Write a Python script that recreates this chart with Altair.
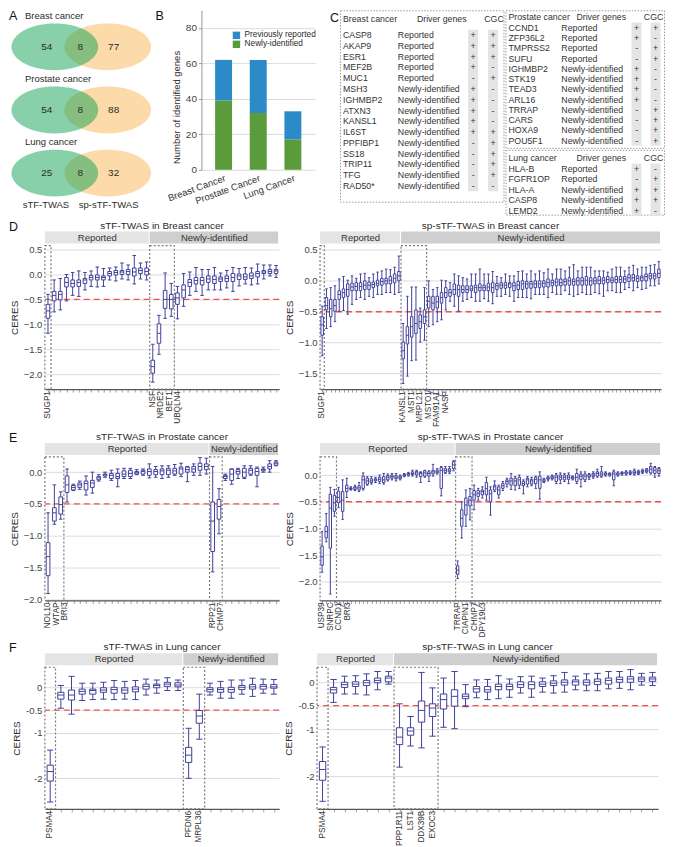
import altair as alt
import pandas as pd

FONT = "Liberation Sans"
NAVY = "#41419b"
RED = "#ef5350"
GRID = "#dcdcdc"
INK = "#2b2b2b"

# ---------------- Panel A : Venn counts ----------------
VENN_CANCERS = ["Breast cancer", "Prostate cancer", "Lung cancer"]
VENN_STF_ONLY = [54, 54, 25]
VENN_SHARED = [8, 8, 8]
VENN_SP_ONLY = [77, 88, 32]
VENN_SETS = ["sTF-TWAS", "sp-sTF-TWAS"]

# ---------------- Panel B : identified genes ----------------
B_CANCERS = ["Breast Cancer", "Prostate Cancer", "Lung Cancer"]
B_REPORTED = [23, 30, 16]
B_NEW = [39, 32, 17]
B_SERIES = ["Previously reported", "Newly-identified"]

# ---------------- Panel C : tables ----------------
BREAST_GENES = ["CASP8", "AKAP9", "ESR1", "MEF2B", "MUC1", "MSH3", "IGHMBP2", "ATXN3",
                "KANSL1", "IL6ST", "PPFIBP1", "SS18", "TRIP11", "TFG", "RAD50*"]
BREAST_STATUS = ["Reported"] * 5 + ["Newly-identified"] * 10
BREAST_DRIVER = ["+", "+", "+", "+", "-", "+", "+", "+", "+", "+", "-", "-", "-", "-", "-"]
BREAST_CGC = ["+", "+", "+", "-", "+", "-", "-", "-", "-", "+", "+", "+", "+", "+", "-"]

PROSTATE_GENES = ["CCND1", "ZFP36L2", "TMPRSS2", "SUFU", "IGHMBP2", "STK19", "TEAD3",
                  "ARL16", "TRRAP", "CARS", "HOXA9", "POU5F1"]
PROSTATE_STATUS = ["Reported"] * 4 + ["Newly-identified"] * 8
PROSTATE_DRIVER = ["+", "+", "-", "-", "+", "+", "+", "+", "-", "-", "-", "-"]
PROSTATE_CGC = ["+", "-", "+", "+", "-", "-", "-", "-", "+", "+", "+", "+"]

LUNG_GENES = ["HLA-B", "FGFR1OP", "HLA-A", "CASP8", "LEMD2"]
LUNG_STATUS = ["Reported", "Reported", "Newly-identified", "Newly-identified", "Newly-identified"]
LUNG_DRIVER = ["+", "-", "+", "+", "+"]
LUNG_CGC = ["-", "+", "+", "+", "-"]

# ---------------- Panels D-F : CERES box statistics (lo, q1, median, q3, hi) ----------------
D_L_REP = [(-1.18, -0.88, -0.73, -0.60, -0.40), (-0.75, -0.53, -0.42, -0.34, -0.11),
           (-0.71, -0.51, -0.40, -0.34, -0.08), (-0.53, -0.25, -0.16, -0.06, 0.00),
           (-0.42, -0.25, -0.18, -0.11, 0.04), (-0.44, -0.24, -0.16, -0.11, 0.07),
           (-0.31, -0.18, -0.11, -0.08, 0.04), (-0.24, -0.11, -0.06, -0.02, 0.07),
           (-0.25, -0.11, -0.06, -0.01, 0.15), (-0.24, -0.11, -0.06, -0.03, 0.12),
           (-0.11, -0.03, 0.02, 0.06, 0.13), (-0.13, -0.01, 0.04, 0.08, 0.15),
           (-0.09, 0.00, 0.05, 0.08, 0.23), (-0.11, 0.00, 0.06, 0.10, 0.19),
           (-0.19, -0.03, 0.05, 0.13, 0.38), (-0.09, 0.02, 0.08, 0.13, 0.23),
           (-0.11, -0.01, 0.06, 0.13, 0.25)]
D_L_NEW = [(-2.16, -1.98, -1.85, -1.72, -1.40), (-1.60, -1.38, -1.18, -0.99, -0.82),
           (-0.88, -0.68, -0.50, -0.32, 0.03), (-0.84, -0.69, -0.50, -0.40, -0.18),
           (-0.89, -0.60, -0.47, -0.37, -0.24), (-0.64, -0.47, -0.31, -0.21, 0.02),
           (-0.42, -0.24, -0.16, -0.10, 0.05), (-0.34, -0.19, -0.12, -0.06, 0.14),
           (-0.42, -0.21, -0.12, -0.06, 0.10), (-0.31, -0.16, -0.09, -0.03, 0.10),
           (-0.31, -0.18, -0.10, -0.03, 0.14), (-0.31, -0.14, -0.09, -0.05, 0.03),
           (-0.27, -0.14, -0.08, -0.03, 0.08), (-0.34, -0.14, -0.06, 0.02, 0.14),
           (-0.23, -0.10, -0.03, 0.01, 0.12), (-0.19, -0.10, -0.05, 0.01, 0.14),
           (-0.21, -0.08, -0.03, 0.03, 0.13), (-0.19, -0.05, 0.02, 0.06, 0.21),
           (-0.09, 0.02, 0.05, 0.08, 0.19), (-0.03, 0.02, 0.06, 0.10, 0.19),
           (-0.06, 0.02, 0.07, 0.10, 0.18)]

D_R_REP = [(-1.21, -0.88, -0.71, -0.58, -0.41), (-0.77, -0.47, -0.40, -0.27, -0.13),
           (-0.74, -0.58, -0.45, -0.30, -0.11), (-0.66, -0.49, -0.40, -0.30, -0.08),
           (-0.49, -0.30, -0.22, -0.16, 0.03), (-0.48, -0.27, -0.19, -0.13, 0.07),
           (-0.54, -0.25, -0.14, -0.05, 0.01), (-0.38, -0.16, -0.10, -0.04, 0.08),
           (-0.30, -0.16, -0.09, -0.03, 0.04), (-0.27, -0.16, -0.09, -0.03, 0.11),
           (-0.30, -0.14, -0.07, 0.00, 0.12), (-0.25, -0.14, -0.07, -0.02, 0.05),
           (-0.27, -0.11, -0.06, -0.02, 0.11), (-0.22, -0.08, -0.04, 0.01, 0.14),
           (-0.22, -0.07, -0.01, 0.04, 0.16), (-0.19, -0.05, 0.00, 0.04, 0.19),
           (-0.19, -0.05, 0.01, 0.07, 0.18), (-0.22, -0.03, 0.04, 0.11, 0.22),
           (-0.19, 0.00, 0.08, 0.15, 0.40)]
D_R_NEW = [(-1.66, -1.26, -1.13, -0.99, -0.69), (-1.54, -1.02, -0.88, -0.74, -0.25),
           (-1.29, -0.91, -0.74, -0.58, -0.10), (-1.28, -0.85, -0.69, -0.47, -0.10),
           (-0.99, -0.77, -0.66, -0.55, -0.44), (-0.96, -0.69, -0.58, -0.47, -0.11),
           (-0.74, -0.44, -0.33, -0.25, 0.00), (-0.71, -0.47, -0.36, -0.25, -0.14),
           (-0.66, -0.44, -0.34, -0.25, -0.11), (-0.63, -0.36, -0.27, -0.19, 0.01),
           (-0.47, -0.27, -0.19, -0.11, 0.00), (-0.33, -0.25, -0.19, -0.14, -0.03),
           (-0.41, -0.22, -0.14, -0.05, 0.11), (-0.49, -0.25, -0.14, -0.07, 0.08),
           (-0.33, -0.19, -0.14, -0.08, 0.05), (-0.30, -0.19, -0.14, -0.08, 0.03),
           (-0.27, -0.16, -0.13, -0.08, 0.11), (-0.33, -0.19, -0.11, -0.07, 0.11),
           (-0.33, -0.16, -0.11, -0.05, 0.19), (-0.29, -0.16, -0.11, -0.07, 0.11),
           (-0.33, -0.16, -0.10, -0.04, 0.11), (-0.37, -0.19, -0.11, -0.03, 0.15),
           (-0.25, -0.14, -0.08, -0.04, 0.07), (-0.25, -0.12, -0.07, -0.03, 0.05),
           (-0.22, -0.12, -0.07, -0.03, 0.11), (-0.25, -0.11, -0.05, -0.03, 0.08),
           (-0.33, -0.16, -0.08, -0.03, 0.08), (-0.27, -0.14, -0.07, -0.01, 0.15),
           (-0.27, -0.14, -0.05, 0.00, 0.16), (-0.27, -0.12, -0.05, -0.01, 0.11),
           (-0.29, -0.12, -0.05, -0.01, 0.16), (-0.22, -0.11, -0.05, 0.00, 0.11),
           (-0.22, -0.11, -0.05, 0.00, 0.16), (-0.22, -0.10, -0.04, 0.00, 0.13),
           (-0.27, -0.10, -0.03, 0.03, 0.19), (-0.19, -0.08, -0.03, 0.01, 0.11),
           (-0.22, -0.08, -0.02, 0.03, 0.19), (-0.22, -0.08, -0.03, 0.03, 0.19),
           (-0.16, -0.07, -0.01, 0.03, 0.16), (-0.22, -0.07, 0.00, 0.05, 0.22),
           (-0.25, -0.07, -0.01, 0.03, 0.26), (-0.22, -0.07, 0.00, 0.05, 0.16),
           (-0.19, -0.07, 0.00, 0.05, 0.22), (-0.22, -0.07, 0.01, 0.07, 0.22),
           (-0.22, -0.07, 0.00, 0.05, 0.22), (-0.19, -0.05, 0.00, 0.05, 0.16),
           (-0.21, -0.05, 0.01, 0.07, 0.16), (-0.25, -0.05, 0.01, 0.05, 0.16),
           (-0.16, -0.03, 0.02, 0.07, 0.14), (-0.16, -0.03, 0.01, 0.05, 0.19),
           (-0.19, -0.03, 0.02, 0.07, 0.22), (-0.19, -0.03, 0.02, 0.07, 0.22),
           (-0.14, -0.03, 0.03, 0.07, 0.16), (-0.11, -0.01, 0.05, 0.10, 0.22),
           (-0.16, 0.00, 0.05, 0.10, 0.25), (-0.11, -0.01, 0.04, 0.08, 0.19),
           (-0.14, 0.00, 0.05, 0.08, 0.22), (-0.12, 0.00, 0.07, 0.11, 0.22),
           (-0.08, 0.03, 0.08, 0.12, 0.25), (-0.08, 0.03, 0.08, 0.12, 0.26),
           (-0.05, 0.05, 0.12, 0.19, 0.31)]

E_L_REP = [(-1.91, -1.63, -1.33, -1.11, -0.64), (-0.82, -0.77, -0.64, -0.56, -0.20),
           (-0.74, -0.66, -0.51, -0.39, -0.31), (-0.47, -0.32, -0.20, -0.06, 0.05),
           (-0.29, -0.28, -0.24, -0.21, -0.19), (-0.27, -0.24, -0.20, -0.17, -0.14),
           (-0.36, -0.28, -0.18, -0.14, -0.06), (-0.33, -0.24, -0.17, -0.13, 0.00),
           (-0.14, -0.12, -0.09, -0.07, -0.04), (-0.08, -0.06, -0.04, -0.03, 0.00),
           (-0.13, -0.10, -0.05, -0.02, 0.03), (-0.23, -0.10, -0.07, -0.02, 0.05),
           (-0.10, -0.07, -0.03, 0.02, 0.06), (-0.10, -0.07, -0.02, 0.03, 0.06),
           (-0.04, -0.03, -0.01, 0.01, 0.04), (-0.05, -0.03, 0.01, 0.03, 0.05),
           (-0.09, -0.05, 0.01, 0.05, 0.13), (-0.08, -0.04, 0.01, 0.04, 0.09),
           (-0.10, -0.04, 0.02, 0.05, 0.10), (-0.08, -0.04, 0.03, 0.06, 0.10),
           (-0.05, -0.03, 0.02, 0.06, 0.12), (-0.07, -0.03, 0.05, 0.08, 0.14),
           (-0.15, 0.00, 0.04, 0.08, 0.09), (-0.05, 0.00, 0.05, 0.09, 0.13),
           (-0.05, 0.03, 0.09, 0.14, 0.23), (-0.03, 0.04, 0.09, 0.13, 0.22)]
E_L_NEW = [(-1.57, -1.25, -0.77, -0.47, 0.09), (-0.97, -0.74, -0.54, -0.43, -0.26),
           (-0.13, -0.10, -0.07, -0.05, -0.03), (-0.19, -0.13, -0.03, 0.05, 0.05),
           (-0.10, -0.03, 0.01, 0.04, 0.06), (-0.10, -0.08, 0.00, 0.06, 0.10),
           (-0.05, -0.03, 0.03, 0.06, 0.10), (-0.23, -0.05, 0.01, 0.06, 0.08),
           (0.00, 0.02, 0.04, 0.05, 0.08), (0.00, 0.05, 0.09, 0.13, 0.18),
           (0.10, 0.11, 0.14, 0.16, 0.18)]

E_R_REP = [(-1.82, -1.69, -1.53, -1.33, -1.06), (-1.25, -1.18, -1.06, -0.96, -0.72),
           (-2.23, -1.37, -0.62, -0.36, -0.23), (-0.77, -0.68, -0.52, -0.38, -0.27),
           (-0.61, -0.52, -0.42, -0.30, -0.23), (-0.83, -0.68, -0.47, -0.31, -0.09),
           (-0.42, -0.31, -0.25, -0.19, -0.06), (-0.28, -0.27, -0.25, -0.24, -0.22),
           (-0.29, -0.27, -0.24, -0.22, -0.19), (-0.31, -0.28, -0.24, -0.20, -0.14),
           (-0.28, -0.25, -0.09, -0.02, 0.04), (-0.19, -0.17, -0.11, -0.06, -0.03),
           (-0.17, -0.14, -0.11, -0.07, -0.03), (-0.14, -0.11, -0.09, -0.07, -0.04),
           (-0.16, -0.12, -0.08, -0.04, 0.00), (-0.17, -0.14, -0.09, -0.03, 0.03),
           (-0.11, -0.09, -0.04, -0.01, 0.02), (-0.09, -0.06, -0.03, 0.00, 0.03),
           (-0.11, -0.07, -0.04, -0.01, 0.03), (-0.09, -0.07, -0.04, -0.02, 0.00),
           (-0.03, -0.02, 0.00, 0.01, 0.03), (-0.02, 0.00, 0.02, 0.03, 0.05),
           (-0.02, 0.01, 0.03, 0.06, 0.09), (-0.04, 0.00, 0.04, 0.07, 0.09),
           (-0.14, -0.03, 0.03, 0.05, 0.06), (-0.04, -0.02, 0.04, 0.08, 0.09),
           (-0.12, -0.02, 0.03, 0.06, 0.08), (-0.02, 0.02, 0.06, 0.09, 0.20),
           (0.02, 0.04, 0.06, 0.09, 0.12), (-0.39, -0.25, 0.09, 0.14, 0.16),
           (0.03, 0.05, 0.09, 0.12, 0.16), (0.03, 0.06, 0.09, 0.12, 0.16),
           (0.08, 0.12, 0.19, 0.25, 0.27)]
E_R_NEW = [(-1.94, -1.86, -1.78, -1.70, -1.61), (-1.18, -0.96, -0.81, -0.65, -0.50),
           (-0.96, -0.75, -0.56, -0.43, -0.28), (-0.84, -0.58, -0.47, -0.40, -0.25),
           (-0.65, -0.47, -0.37, -0.29, -0.19), (-0.47, -0.40, -0.34, -0.29, -0.25),
           (-0.43, -0.37, -0.31, -0.28, -0.22), (-0.47, -0.37, -0.25, -0.14, -0.04),
           (-0.75, -0.50, -0.35, -0.28, -0.22), (-0.31, -0.28, -0.22, -0.19, -0.11),
           (-0.43, -0.37, -0.28, -0.22, -0.19), (-0.29, -0.25, -0.20, -0.16, -0.12),
           (-0.22, -0.17, -0.12, -0.09, -0.06), (-0.27, -0.19, -0.11, -0.06, 0.03),
           (-0.28, -0.20, -0.11, -0.06, -0.03), (-0.25, -0.19, -0.09, -0.04, 0.00),
           (-0.35, -0.20, -0.16, -0.12, -0.09), (-0.22, -0.17, -0.09, -0.06, -0.03),
           (-0.20, -0.17, -0.11, -0.08, -0.04), (-0.25, -0.16, -0.08, -0.04, -0.02),
           (-0.45, -0.25, -0.09, -0.02, 0.06), (-0.14, -0.12, -0.11, -0.08, -0.06),
           (-0.11, -0.08, -0.06, -0.04, -0.02), (-0.09, -0.07, -0.04, -0.02, 0.00),
           (-0.16, -0.12, -0.04, 0.00, 0.03), (-0.16, -0.09, -0.04, 0.00, 0.04),
           (-0.12, -0.09, -0.04, 0.00, 0.03), (-0.16, -0.08, -0.04, 0.00, 0.04),
           (-0.09, -0.07, -0.05, -0.03, -0.02), (-0.16, -0.12, -0.04, 0.03, 0.11),
           (-0.22, -0.08, -0.02, 0.02, 0.06), (-0.12, -0.09, -0.02, 0.02, 0.06),
           (-0.08, -0.04, -0.02, 0.01, 0.03), (-0.06, -0.03, 0.00, 0.03, 0.06),
           (-0.04, -0.02, 0.03, 0.06, 0.11), (-0.04, -0.02, 0.02, 0.06, 0.16),
           (-0.02, 0.00, 0.02, 0.04, 0.06), (-0.02, 0.00, 0.02, 0.03, 0.04),
           (-0.20, -0.09, 0.02, 0.06, 0.09), (-0.02, 0.00, 0.02, 0.04, 0.06),
           (0.00, 0.02, 0.03, 0.05, 0.06), (0.00, 0.02, 0.04, 0.06, 0.08),
           (0.01, 0.03, 0.04, 0.06, 0.08), (0.00, 0.02, 0.05, 0.08, 0.11),
           (0.01, 0.03, 0.05, 0.07, 0.09), (0.03, 0.05, 0.07, 0.09, 0.11),
           (0.04, 0.06, 0.08, 0.11, 0.12), (0.02, 0.04, 0.11, 0.16, 0.22),
           (-0.04, 0.03, 0.09, 0.14, 0.16), (-0.02, 0.03, 0.08, 0.12, 0.14)]

F_L_REP = [(-2.52, -2.06, -1.85, -1.71, -1.38), (-0.46, -0.26, -0.17, -0.11, 0.04),
           (-0.59, -0.28, -0.17, -0.06, 0.24), (-0.29, -0.15, -0.09, -0.04, 0.09),
           (-0.27, -0.15, -0.07, -0.04, 0.09), (-0.26, -0.11, -0.06, -0.01, 0.11),
           (-0.27, -0.13, -0.05, 0.00, 0.15), (-0.26, -0.13, -0.06, -0.01, 0.13),
           (-0.27, -0.10, -0.04, 0.01, 0.15), (-0.17, -0.04, 0.02, 0.07, 0.18),
           (-0.13, -0.01, 0.04, 0.07, 0.16), (-0.07, 0.02, 0.07, 0.11, 0.21),
           (-0.07, 0.01, 0.05, 0.10, 0.16)]
F_L_NEW = [(-2.00, -1.65, -1.49, -1.32, -0.90), (-1.14, -0.79, -0.63, -0.51, -0.15),
           (-0.17, -0.10, -0.05, -0.01, 0.09), (-0.24, -0.11, -0.05, -0.01, 0.13),
           (-0.24, -0.11, -0.05, 0.00, 0.16), (-0.15, -0.05, 0.00, 0.04, 0.16),
           (-0.20, -0.04, 0.01, 0.06, 0.20), (-0.13, -0.04, 0.02, 0.06, 0.18),
           (-0.15, -0.02, 0.01, 0.06, 0.17)]

F_R_REP = [(-2.54, -2.09, -1.86, -1.69, -1.38), (-0.43, -0.23, -0.16, -0.11, 0.06),
           (-0.25, -0.11, -0.05, 0.00, 0.13), (-0.25, -0.09, -0.04, 0.01, 0.14),
           (-0.27, -0.07, -0.01, 0.04, 0.18), (-0.16, -0.01, 0.04, 0.09, 0.23),
           (-0.04, 0.01, 0.09, 0.13, 0.23)]
F_R_NEW = [(-1.81, -1.33, -1.17, -0.97, -0.46), (-1.36, -1.13, -1.04, -0.97, -0.73),
           (-1.40, -0.85, -0.60, -0.40, 0.21), (-1.15, -0.73, -0.55, -0.46, -0.12),
           (-0.96, -0.57, -0.37, -0.25, 0.09), (-0.99, -0.51, -0.30, -0.16, 0.23),
           (-0.52, -0.35, -0.30, -0.25, -0.05), (-0.33, -0.21, -0.14, -0.09, 0.05),
           (-0.37, -0.21, -0.16, -0.09, 0.06), (-0.35, -0.16, -0.09, -0.04, 0.14),
           (-0.32, -0.16, -0.09, -0.04, 0.07), (-0.23, -0.11, -0.05, 0.01, 0.12),
           (-0.32, -0.14, -0.05, 0.01, 0.13), (-0.21, -0.09, -0.04, 0.01, 0.09),
           (-0.23, -0.07, -0.02, 0.03, 0.14), (-0.21, -0.06, 0.00, 0.05, 0.21),
           (-0.16, -0.06, 0.01, 0.05, 0.13), (-0.18, -0.06, 0.00, 0.05, 0.18),
           (-0.18, -0.05, 0.02, 0.07, 0.19), (-0.14, -0.04, 0.04, 0.09, 0.23),
           (-0.13, 0.00, 0.06, 0.11, 0.23), (-0.16, 0.00, 0.07, 0.12, 0.27),
           (-0.06, 0.02, 0.07, 0.11, 0.19), (-0.07, 0.02, 0.07, 0.11, 0.21)]

# labelled genes: (group, index within group, name)
D_L_LABELS = [("Reported", 0, "SUGP1"), ("Newly-identified", 0, "NSF"), ("Newly-identified", 1, "NRDE2"),
              ("Newly-identified", 2, "BET1"), ("Newly-identified", 3, "UBQLN4")]
D_R_LABELS = [("Reported", 0, "SUGP1"), ("Newly-identified", 0, "KANSL1"), ("Newly-identified", 1, "MST1"),
              ("Newly-identified", 2, "MRPL21"), ("Newly-identified", 3, "MSTO1"),
              ("Newly-identified", 4, "FAM91A1"), ("Newly-identified", 5, "NASP")]
E_L_LABELS = [("Reported", 0, "NOL10"), ("Reported", 1, "WTAP"), ("Reported", 2, "BRI3"),
              ("Newly-identified", 0, "RPP21"), ("Newly-identified", 1, "CHMP7")]
E_R_LABELS = [("Reported", 0, "USP39"), ("Reported", 1, "SNRPC"), ("Reported", 2, "CCND1"),
              ("Reported", 3, "BRI3"), ("Newly-identified", 0, "TRRAP"), ("Newly-identified", 1, "CIAPIN1"),
              ("Newly-identified", 2, "CHMP7"), ("Newly-identified", 3, "DPY19L3")]
F_L_LABELS = [("Reported", 0, "PSMA4"), ("Newly-identified", 0, "PFDN6"), ("Newly-identified", 1, "MRPL36")]
F_R_LABELS = [("Reported", 0, "PSMA4"), ("Newly-identified", 0, "PPP1R11"), ("Newly-identified", 1, "LST1"),
              ("Newly-identified", 2, "DDX39B"), ("Newly-identified", 3, "EXOC3")]

# highlighted (dotted) gene ranges: (group, first, last)
D_L_HL = [("Reported", 0, 0), ("Newly-identified", 0, 3)]
D_R_HL = [("Reported", 0, 0), ("Newly-identified", 0, 5)]
E_L_HL = [("Reported", 0, 2), ("Newly-identified", 0, 1)]
E_R_HL = [("Reported", 0, 3), ("Newly-identified", 0, 3)]
F_L_HL = [("Reported", 0, 0), ("Newly-identified", 0, 1)]
F_R_HL = [("Reported", 0, 0), ("Newly-identified", 0, 3)]

GROUPS = ["Reported", "Newly-identified"]
STRIP_FILL = {"Reported": "#e4e4e4", "Newly-identified": "#cfcfcf"}

# every row of the figure hangs the same distance left of its plot origin
LEFT_EXTENT = 36


def one_row():
    return pd.DataFrame({"k": [0]})


def letter_layer(letter, x, y):
    return alt.Chart(one_row()).mark_text(text=letter, fontSize=12.5, align="left", baseline="top",
                                          color="#111111").encode(x=alt.value(x), y=alt.value(y))


# ---------------- Panel A ----------------
ELLIPSE = ("M -10 0 C -10 -2.982 -5.523 -5.4 0 -5.4 C 5.523 -5.4 10 -2.982 10 0 "
           "C 10 2.982 5.523 5.4 0 5.4 C -5.523 5.4 -10 2.982 -10 0 Z")
ELLIPSE_SIZE = 75.69
VENN_W, VENN_H = 104, 200
venn_center = {"sTF-TWAS": 0.096, "sp-sTF-TWAS": 0.606}
count_pos = [0.019, 0.341, 0.663]
set_label_pos = [0.01, 0.615]

ell = pd.DataFrame([{"cancer": c, "set": s, "cx": venn_center[s]} for c in VENN_CANCERS for s in VENN_SETS])
cnt = pd.DataFrame([{"cancer": c, "n": v, "cx": count_pos[k]}
                    for i, c in enumerate(VENN_CANCERS)
                    for k, v in enumerate([VENN_STF_ONLY[i], VENN_SHARED[i], VENN_SP_ONLY[i]])])


def vx(f):
    return alt.X(f, type="quantitative", scale=alt.Scale(domain=[0, 1], nice=False, zero=False), axis=None)


vy = alt.Y("cancer:N", scale=alt.Scale(type="point", domain=VENN_CANCERS, padding=0.58), axis=None)

venn_orange = alt.Chart(ell[ell["set"] == "sp-sTF-TWAS"]).mark_point(
    shape=ELLIPSE, size=ELLIPSE_SIZE, filled=True, color="#fcdaaa", opacity=1, strokeWidth=0
).encode(x=vx("cx"), y=vy)
venn_green = alt.Chart(ell[ell["set"] == "sTF-TWAS"]).mark_point(
    shape=ELLIPSE, size=ELLIPSE_SIZE, filled=True, color="#0fa155", opacity=0.5, strokeWidth=0
).encode(x=vx("cx"), y=vy)
venn_counts = alt.Chart(cnt).mark_text(fontSize=10, color=INK).encode(x=vx("cx"), y=vy, text="n:Q")
venn_titles = alt.Chart(pd.DataFrame({"cancer": VENN_CANCERS})).mark_text(
    align="left", dy=-31, fontSize=9.5, color=INK).encode(x=alt.value(-20), y=vy, text="cancer:N")
venn_sets = alt.Chart(pd.DataFrame({"set": VENN_SETS, "cx": set_label_pos})).mark_text(
    fontSize=9.5, color=INK, baseline="middle").encode(x=vx("cx"), y=alt.value(195), text="set:N")

panel_a = alt.layer(venn_orange, venn_green, venn_counts, venn_titles, venn_sets,
                    letter_layer("A", -LEFT_EXTENT, 0)).properties(width=VENN_W, height=VENN_H)

# ---------------- Panel B ----------------
# plot area starts at the panel letter; the 0-80 axis sits in its lower 142 px
B_TOP = 90
b_df = pd.DataFrame({
    "cancer": B_CANCERS + B_CANCERS,
    "series": [B_SERIES[0]] * 3 + [B_SERIES[1]] * 3,
    "count": B_REPORTED + B_NEW,
    "ord": [1] * 3 + [0] * 3,
})
bars = alt.Chart(b_df).mark_bar(size=17).encode(
    x=alt.X("cancer:N", sort=B_CANCERS, scale=alt.Scale(paddingInner=0.5, paddingOuter=0.39),
            axis=alt.Axis(title=None, labelAngle=-20, labelAlign="right", labelBaseline="top", domain=False,
                          ticks=False, labelFontSize=9.5, labelColor="#333333", labelPadding=3)),
    y=alt.Y("count:Q", stack="zero", scale=alt.Scale(domain=[0, B_TOP], nice=False),
            axis=alt.Axis(values=[0, 20, 40, 60, 80], labelOverlap=False, title="Number of identified genes",
                          titleFontSize=9.5, titleFontWeight="normal", titleColor=INK, labelFontSize=10,
                          labelColor="#444444", grid=True, gridColor=GRID, domain=True, domainColor="#9a9a9a",
                          tickColor="#9a9a9a", tickSize=3, titlePadding=4, titleY=97)),
    color=alt.Color("series:N", scale=alt.Scale(domain=B_SERIES, range=["#2c8bc7", "#5a9c3c"]),
                    legend=alt.Legend(title=None, orient="none", legendX=31, legendY=21, symbolType="square",
                                      symbolSize=55, labelFontSize=8.3, rowPadding=0, padding=0,
                                      symbolStrokeWidth=0, labelColor=INK)),
    order=alt.Order("ord:Q"),
)
panel_b = alt.layer(bars, letter_layer("B", -46, 0)).properties(width=114, height=160)


# ---------------- Panel C ----------------
def table_chart(header, genes, status, drv, cgc, width, height, ydom, header_row, cols, letter=None):
    n = len(genes)
    df = pd.DataFrame({"row": list(range(n)), "gene": genes, "status": status, "drv": drv, "cgc": cgc})
    ys = alt.Scale(domain=ydom, reverse=True, nice=False, zero=False)

    def Y(f):
        return alt.Y(f, type="quantitative", scale=ys, axis=None)

    txt = dict(fontSize=8.8, color="#333333", baseline="middle")
    bg = pd.DataFrame({"r0": [-0.5], "r1": [n - 0.5]})
    layers = []
    for c in ("drv", "cgc"):
        layers.append(alt.Chart(bg).mark_rect(color="#e4e4e4").encode(
            x=alt.value(cols[c] - 5), x2=alt.value(cols[c] + 5), y=Y("r0"), y2=alt.Y2("r1")))
    base = alt.Chart(df)
    layers.append(base.mark_text(align="left", **txt).encode(x=alt.value(cols["gene"]), y=Y("row"), text="gene:N"))
    layers.append(base.mark_text(align="left", **txt).encode(x=alt.value(cols["status"]), y=Y("row"), text="status:N"))
    layers.append(base.mark_text(align="center", **txt).encode(x=alt.value(cols["drv"]), y=Y("row"), text="drv:N"))
    layers.append(base.mark_text(align="center", **txt).encode(x=alt.value(cols["cgc"]), y=Y("row"), text="cgc:N"))
    hdr = pd.DataFrame({"row": [header_row], "title": [header]})
    layers.append(alt.Chart(hdr).mark_text(align="left", **txt).encode(
        x=alt.value(cols["gene"]), y=Y("row"), text="title:N"))
    layers.append(alt.Chart(hdr).mark_text(align="right", text="Driver genes", **txt).encode(
        x=alt.value(cols["drv_hdr"]), y=Y("row")))
    layers.append(alt.Chart(hdr).mark_text(align="center", text="CGC", **txt).encode(
        x=alt.value(cols["cgc_hdr"]), y=Y("row")))
    if letter:
        layers.append(letter_layer(letter, -10, 2))
    return alt.layer(*layers).properties(
        width=width, height=height,
        view=alt.ViewBackground(stroke="#9a9a9a", strokeDash=[1.5, 1.5], strokeWidth=1))


BREAST_COLS = {"gene": 3, "status": 58, "drv_hdr": 127, "drv": 133.5, "cgc": 153.5, "cgc_hdr": 154.5}
RIGHT_COLS = {"gene": 3, "status": 56, "drv_hdr": 121, "drv": 131.5, "cgc": 150.5, "cgc_hdr": 148.5}

t_breast = table_chart("Breast cancer", BREAST_GENES, BREAST_STATUS, BREAST_DRIVER, BREAST_CGC,
                       164, 192, [-2.317, 15.47], -1.5, BREAST_COLS, letter="C")
t_prostate = table_chart("Prostate cancer", PROSTATE_GENES, PROSTATE_STATUS, PROSTATE_DRIVER, PROSTATE_CGC,
                         159, 138, [-1.699, 11.70], -1, RIGHT_COLS)
t_lung = table_chart("Lung cancer", LUNG_GENES, LUNG_STATUS, LUNG_DRIVER, LUNG_CGC,
                     159, 65, [-1.81, 4.38], -1, RIGHT_COLS)
panel_c = alt.concat(t_breast, alt.vconcat(t_prostate, t_lung, spacing=0), spacing=0, align="none")

# ---------------- Panels D-F ----------------
LABEL_GAP = 8.5


def box_panel(title, rep, new, labels, highlights, domain, ticks, hyphen, width, height, letter=None):
    stats = list(rep) + list(new)
    n, nrep = len(stats), len(rep)
    off = {"Reported": 0, "Newly-identified": nrep}
    df = pd.DataFrame(stats, columns=["lo", "q1", "med", "q3", "hi"])
    df["idx"] = list(range(n))
    df["xl"] = df["idx"] - 0.29
    df["xr"] = df["idx"] + 0.29

    xs = alt.Scale(domain=[-0.5, n - 0.5], nice=False, zero=False)
    xa = alt.Axis(values=list(range(n)), labels=False, title=None, grid=False, domainColor="#555555",
                  domainWidth=1.3, tickColor="#8a8a8a", tickSize=3, tickWidth=0.8)
    ys = alt.Scale(domain=domain, nice=False, zero=False)
    fmt = {"labelExpr": "toString(datum.value)"} if hyphen else {"format": ".1f"}
    ya = alt.Axis(values=ticks, title="CERES", grid=True, gridColor=GRID, gridWidth=1, domain=False, ticks=False,
                  labelFontSize=9.5, labelColor="#444444", labelPadding=3, titleFontSize=10,
                  titleFontWeight="normal", titleColor=INK, titlePadding=4, **fmt)

    def X(f):
        return alt.X(f, type="quantitative", scale=xs, axis=xa)

    def Y(f):
        return alt.Y(f, type="quantitative", scale=ys, axis=ya)

    strips = pd.DataFrame({"group": GROUPS, "s0": [-0.5, nrep - 0.5], "s1": [nrep - 0.5, n - 0.5]})
    strips["mid"] = (strips["s0"] + strips["s1"]) / 2
    hl = pd.DataFrame([{"h0": off[g] + a - 0.5, "h1": off[g] + b + 0.5} for g, a, b in highlights])

    step = width / n
    rows, prev = [], -1e9
    for g, i, name in labels:
        gi = off[g] + i
        px = (gi + 0.5) * step
        sp = max(px, prev + LABEL_GAP)
        prev = sp
        rows.append({"idx": gi, "name": name, "slot": sp / step - 0.5, "shift": sp - px})
    lab = pd.DataFrame(rows)
    leads = [r for k, r in enumerate(rows)
             if (k == len(rows) - 1 or rows[k + 1]["idx"] != r["idx"] + 1) and r["shift"] > 10]

    layers = [
        alt.Chart(pd.DataFrame({"thr": [-0.5]})).mark_rule(color=RED, strokeDash=[6, 4], strokeWidth=1.3)
        .encode(y=Y("thr")),
        alt.Chart(hl).mark_rect(fillOpacity=0, stroke="#7a7a7a", strokeDash=[2, 2], strokeWidth=1.2)
        .encode(x=X("h0"), x2=alt.X2("h1"), y=alt.value(0), y2=alt.value(height)),
    ]
    for gi, g in enumerate(GROUPS):
        layers.append(alt.Chart(strips.iloc[[gi]]).mark_rect(x2Offset=-1, color=STRIP_FILL[g]).encode(
            x=X("s0"), x2=alt.X2("s1"), y=alt.value(-14), y2=alt.value(-2)))
    layers += [
        alt.Chart(strips).mark_text(fontSize=9.5, color="#333333", baseline="middle").encode(
            x=X("mid"), y=alt.value(-8), text="group:N"),
        alt.Chart(df).mark_rule(color=NAVY, strokeWidth=1).encode(x=X("idx"), y=Y("lo"), y2=alt.Y2("hi")),
        alt.Chart(df).mark_rect(fill="white", stroke=NAVY, strokeWidth=1).encode(
            x=X("xl"), x2=alt.X2("xr"), y=Y("q1"), y2=alt.Y2("q3")),
        alt.Chart(df).mark_rule(color=NAVY, strokeWidth=1).encode(x=X("xl"), x2=alt.X2("xr"), y=Y("med")),
        alt.Chart(df).mark_rule(color=NAVY, strokeWidth=1).encode(x=X("xl"), x2=alt.X2("xr"), y=Y("lo")),
        alt.Chart(df).mark_rule(color=NAVY, strokeWidth=1).encode(x=X("xl"), x2=alt.X2("xr"), y=Y("hi")),
        alt.Chart(lab).mark_text(angle=270, align="right", baseline="middle", fontSize=8.2, color="#333333")
        .encode(x=X("slot"), y=alt.value(height + 2), text="name:N"),
        alt.Chart(one_row()).mark_text(text=title, fontSize=10, color=INK, baseline="middle")
        .encode(x=alt.value(width / 2), y=alt.value(-20)),
    ]
    if leads:
        layers.append(alt.Chart(pd.DataFrame(leads)).mark_rule(color=NAVY, strokeWidth=0.8).encode(
            x=X("idx"), x2=alt.X2("slot"), y=alt.value(height + 1), y2=alt.value(height + 8)))
    if letter:
        layers.append(letter_layer(letter, -LEFT_EXTENT, -25))
    return alt.layer(*layers).properties(width=width, height=height)


T_DE = [0.5, 0, -0.5, -1, -1.5, -2]
T_F = [0, -0.5, -1, -2]
LW, RW = 235, 342

d_left = box_panel("sTF-TWAS in Breast cancer", D_L_REP, D_L_NEW, D_L_LABELS, D_L_HL,
                   [-2.3, 0.58], T_DE, False, LW, 144, letter="D")
d_right = box_panel("sp-sTF-TWAS in Breast cancer", D_R_REP, D_R_NEW, D_R_LABELS, D_R_HL,
                    [-1.75, 0.57], T_DE[:-1], False, RW, 144)
e_left = box_panel("sTF-TWAS in Prostate cancer", E_L_REP, E_L_NEW, E_L_LABELS, E_L_HL,
                   [-2.02, 0.24], T_DE[1:], False, LW, 144, letter="E")
e_right = box_panel("sp-sTF-TWAS in Prostate cancer", E_R_REP, E_R_NEW, E_R_LABELS, E_R_HL,
                    [-2.35, 0.34], T_DE[1:], False, RW, 144)
f_left = box_panel("sTF-TWAS in Lung cancer", F_L_REP, F_L_NEW, F_L_LABELS, F_L_HL,
                   [-2.67, 0.44], T_F, True, LW, 142, letter="F")
f_right = box_panel("sp-sTF-TWAS in Lung cancer", F_R_REP, F_R_NEW, F_R_LABELS, F_R_HL,
                    [-2.7, 0.32], T_F, True, RW, 142)

ab = alt.concat(panel_a, panel_b, spacing=2, align="none").resolve_scale(color="independent").resolve_legend(
    color="independent")
top = alt.concat(ab, panel_c, spacing=12, align="none").resolve_scale(color="independent").resolve_legend(
    color="independent")
row_d = alt.concat(d_left, d_right, spacing=2, align="none")
row_e = alt.concat(e_left, e_right, spacing=2, align="none")
row_f = alt.concat(f_left, f_right, spacing=2, align="none")

chart = alt.concat(top, row_d, row_e, row_f, columns=1, spacing=3, align="none").resolve_scale(
    color="independent").resolve_legend(color="independent").properties(padding=0).configure_view(
    stroke="transparent"
).configure_axis(labelFont=FONT, titleFont=FONT).configure_text(font=FONT).configure_legend(labelFont=FONT)

chart.save("out.html", embed_options={"renderer": "svg", "actions": False})
